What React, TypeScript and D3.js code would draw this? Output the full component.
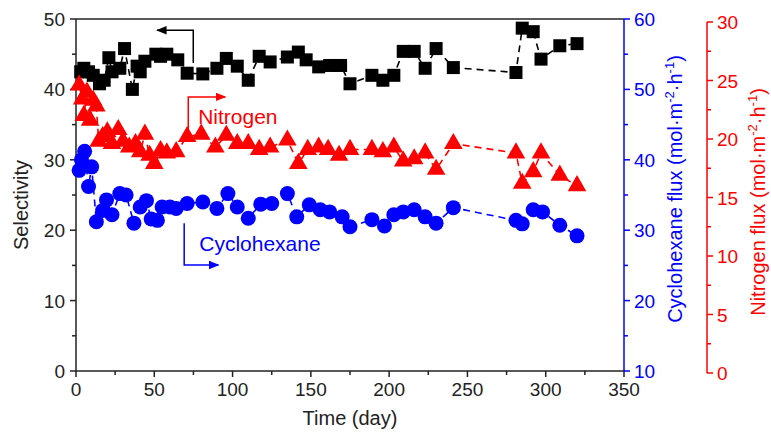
import React from "react";
import * as d3 from "d3";

// Selectivity (left axis) — [day, selectivity]
const selectivity: [number, number][] = [
  [3, 42.5], [5, 43], [8, 42.5], [11, 42], [15, 40.8], [18, 41.3], [21, 44.5], [23, 42.5],
  [28, 43], [31, 45.8], [36, 40], [39, 43.3], [41, 42.5], [44, 44], [51, 45], [54, 44.7],
  [58, 45], [65, 44.2], [71, 42.3], [81, 42.2], [90, 43], [96, 44.4], [103, 43.3], [110, 41.3],
  [117, 44.7], [124, 43.9], [135, 44.6], [142, 45.3], [147, 44.2], [155, 43.2], [162, 43.4],
  [169, 43.4], [175, 40.8], [189, 42], [196, 41.3], [203, 42], [209, 45.4], [216, 45.4],
  [223, 43], [230, 45.8], [241, 43.1], [281, 42.4], [285, 48.7], [292, 48.2], [297, 44.3],
  [309, 46.2], [320, 46.5],
];

// Cyclohexane flux (blue axis) — [day, flux]
const cyclohexane: [number, number][] = [
  [2, 38.5], [3.5, 40], [5.5, 41.2], [8, 36.2], [10, 39], [13, 31.2], [17, 32.8], [19.5, 34.3],
  [23, 32.2], [28, 35.2], [32, 35], [37, 31], [41, 33.3], [45, 34.2], [48, 31.6], [52, 31.4],
  [55, 33.3], [60, 33.3], [64, 33.1], [71, 33.8], [81, 34], [90, 33.1], [97, 35.2], [103, 33.3],
  [110, 31.7], [118, 33.7], [125, 33.8], [135, 35.2], [141, 31.9], [149, 33.6], [156, 32.9],
  [162, 32.6], [170, 31.9], [175, 30.5], [189, 31.5], [197, 30.6], [203, 32.2], [209, 32.6],
  [216, 32.9], [223, 31.9], [230, 31], [241, 33.2], [281, 31.4], [285, 30.9], [292, 32.9],
  [298, 32.6], [309, 30.7], [320, 29.2],
];

// Nitrogen flux (red axis) — [day, flux]
const nitrogen: [number, number][] = [
  [2, 24.6], [4, 23.4], [5, 22.0], [7, 24.0], [9, 21.6], [11, 23.3], [13, 22.8], [14.5, 19.8],
  [17, 20.2], [20, 20.6], [23, 19.6], [27, 20.8], [30, 19.8], [34, 19.3], [38, 19.6], [41, 18.9],
  [44, 20.4], [47, 18.6], [50, 17.9], [54, 19.0], [58, 18.8], [64, 18.9], [71, 20.2], [80, 20.4],
  [89, 19.3], [96, 20.3], [103, 19.6], [110, 19.6], [117, 19.1], [124, 19.3], [135, 19.9],
  [142, 17.9], [148, 19.1], [155, 19.3], [161, 19.1], [168, 18.6], [175, 19.1], [189, 19.1],
  [196, 18.9], [203, 19.3], [209, 18.1], [216, 18.3], [223, 18.8], [230, 17.4], [241, 19.6],
  [281, 18.8], [285, 16.2], [292, 17.2], [297, 18.8], [309, 16.9], [320, 16],
];

const xTicks = [0, 50, 100, 150, 200, 250, 300, 350];
const selTicks = [0, 10, 20, 30, 40, 50];
const cycTicks = [10, 20, 30, 40, 50, 60];
const nitTicks = [0, 5, 10, 15, 20, 25, 30];

const W = 771;
const H = 435;
const FONT = "'Liberation Sans', Arial, sans-serif";

export default function App() {
  const x = d3.scaleLinear().domain([0, 350]).range([76, 624]);
  const ySel = d3.scaleLinear().domain([0, 50]).range([371, 19]);
  const yCyc = d3.scaleLinear().domain([10, 60]).range([371, 19]);
  const yNit = d3.scaleLinear().domain([0, 30]).range([373, 22]);

  const blueX = 624;
  const redX = 707;

  const lineSel = d3.line<[number, number]>().x(d => x(d[0])).y(d => ySel(d[1]));
  const lineCyc = d3.line<[number, number]>().x(d => x(d[0])).y(d => yCyc(d[1]));
  const lineNit = d3.line<[number, number]>().x(d => x(d[0])).y(d => yNit(d[1]));

  const tri = d3.symbol().type(d3.symbolTriangle).size(150)();

  const minor = (lo: number, hi: number, step: number) => d3.range(lo, hi + 0.001, step);

  const axisColor = "#222";

  return (
    <svg width={W} height={H} style={{ position: "absolute", left: 0, top: 0, background: "#fff" }}
      fontFamily={FONT}>
      <defs>
        <marker id="arrK" viewBox="0 0 10 10" refX="9" refY="5" markerWidth="7" markerHeight="7" orient="auto">
          <path d="M0,1 L10,5 L0,9 z" fill="#000" />
        </marker>
        <marker id="arrR" viewBox="0 0 10 10" refX="9" refY="5" markerWidth="7" markerHeight="7" orient="auto">
          <path d="M0,1 L10,5 L0,9 z" fill="#f00" />
        </marker>
        <marker id="arrB" viewBox="0 0 10 10" refX="9" refY="5" markerWidth="7" markerHeight="7" orient="auto">
          <path d="M0,1 L10,5 L0,9 z" fill="#00f" />
        </marker>
      </defs>

      {/* frame: top line */}
      <line x1={x(0)} x2={x(350)} y1={ySel(50)} y2={ySel(50)} stroke={axisColor} strokeWidth={1.5} />

      {/* bottom axis */}
      <line x1={x(0)} x2={x(350)} y1={ySel(0)} y2={ySel(0)} stroke={axisColor} strokeWidth={1.5} />
      {minor(0, 350, 25).map(t => (
        <line key={"xt" + t} x1={x(t)} x2={x(t)} y1={ySel(0)} y2={ySel(0) + (t % 50 === 0 ? 6 : 4)}
          stroke={axisColor} strokeWidth={1.5} />
      ))}
      {xTicks.map(t => (
        <text key={"xl" + t} x={x(t)} y={396} textAnchor="middle" fontSize={19} fill="#222">{t}</text>
      ))}
      <text x={(x(0) + x(350)) / 2} y={425} textAnchor="middle" fontSize={20} fill="#222">Time (day)</text>

      {/* left axis */}
      <line x1={x(0)} x2={x(0)} y1={ySel(0)} y2={ySel(50)} stroke={axisColor} strokeWidth={1.5} />
      {minor(0, 50, 5).map(t => (
        <line key={"yl" + t} x1={x(0)} x2={x(0) - (t % 10 === 0 ? 6 : 4)} y1={ySel(t)} y2={ySel(t)}
          stroke={axisColor} strokeWidth={1.5} />
      ))}
      {selTicks.map(t => (
        <text key={"yll" + t} x={65} y={ySel(t) + 7} textAnchor="end" fontSize={19} fill="#222">{t}</text>
      ))}
      <text transform={`translate(28,${(ySel(0) + ySel(50)) / 2 + 10}) rotate(-90)`} textAnchor="middle"
        fontSize={20} fill="#222">Selectivity</text>

      {/* blue axis */}
      <line x1={blueX} x2={blueX} y1={yCyc(10)} y2={yCyc(60)} stroke="#00f" strokeWidth={1.5} />
      {minor(10, 60, 5).map(t => (
        <line key={"yb" + t} x1={blueX} x2={blueX + (t % 10 === 0 ? 6 : 4)} y1={yCyc(t)} y2={yCyc(t)}
          stroke="#00f" strokeWidth={1.5} />
      ))}
      {cycTicks.map(t => (
        <text key={"ybl" + t} x={634} y={yCyc(t) + 7} fontSize={19} fill="#00f">{t}</text>
      ))}
      <text transform={`translate(682,189) rotate(-90)`} textAnchor="middle" fontSize={20} fill="#00f">
        Cyclohexane flux (mol·m<tspan fontSize={13} dy={-8}>-2</tspan><tspan dy={8}>·h</tspan>
        <tspan fontSize={13} dy={-8}>-1</tspan><tspan dy={8}>)</tspan>
      </text>

      {/* red axis */}
      <line x1={redX} x2={redX} y1={yNit(0)} y2={yNit(30)} stroke="#f00" strokeWidth={1.5} />
      {minor(0, 30, 2.5).map(t => (
        <line key={"yr" + t} x1={redX} x2={redX + (t % 5 === 0 ? 6 : 4)} y1={yNit(t)} y2={yNit(t)}
          stroke="#f00" strokeWidth={1.5} />
      ))}
      {nitTicks.map(t => (
        <text key={"yrl" + t} x={717} y={yNit(t) + 7} fontSize={19} fill="#f00">{t}</text>
      ))}
      <text transform={`translate(765,202) rotate(-90)`} textAnchor="middle" fontSize={20} fill="#f00">
        Nitrogen flux (mol·m<tspan fontSize={13} dy={-8}>-2</tspan><tspan dy={8}>·h</tspan>
        <tspan fontSize={13} dy={-8}>-1</tspan><tspan dy={8}>)</tspan>
      </text>

      {/* dashed connecting lines */}
      <path d={lineSel(selectivity) || ""} fill="none" stroke="#000" strokeWidth={1.6} strokeDasharray="7,5" />
      <path d={lineNit(nitrogen) || ""} fill="none" stroke="#f00" strokeWidth={1.6} strokeDasharray="7,5" />
      <path d={lineCyc(cyclohexane) || ""} fill="none" stroke="#00f" strokeWidth={1.6} strokeDasharray="7,5" />

      {/* markers */}
      {selectivity.map((d, i) => (
        <rect key={"s" + i} x={x(d[0]) - 6.5} y={ySel(d[1]) - 6.5} width={13} height={13} fill="#000" />
      ))}
      {nitrogen.map((d, i) => (
        <path key={"n" + i} d={tri || ""} transform={`translate(${x(d[0])},${yNit(d[1])})`} fill="#f00" />
      ))}
      {cyclohexane.map((d, i) => (
        <circle key={"c" + i} cx={x(d[0])} cy={yCyc(d[1])} r={7.5} fill="#00f" />
      ))}

      {/* annotations */}
      <path d={`M${x(74.9)},${ySel(43.75)} L${x(74.9)},${ySel(48.4)} L${x(51.8)},${ySel(48.4)}`}
        fill="none" stroke="#000" strokeWidth={1.5} markerEnd="url(#arrK)" />
      <path d={`M${x(71.7)},${yNit(20.6)} L${x(71.7)},${yNit(23.6)} L${x(95.3)},${yNit(23.6)}`}
        fill="none" stroke="#f00" strokeWidth={1.5} markerEnd="url(#arrR)" />
      <text x={x(78)} y={yNit(21.3)} fontSize={21} fill="#f00">Nitrogen</text>
      <path d={`M${x(69.1)},${yCyc(31)} L${x(69.1)},${yCyc(25.06)} L${x(90.9)},${yCyc(25.06)}`}
        fill="none" stroke="#00f" strokeWidth={1.5} markerEnd="url(#arrB)" />
      <text x={x(78.7)} y={yCyc(27)} fontSize={21} fill="#00f">Cyclohexane</text>
    </svg>
  );
}
